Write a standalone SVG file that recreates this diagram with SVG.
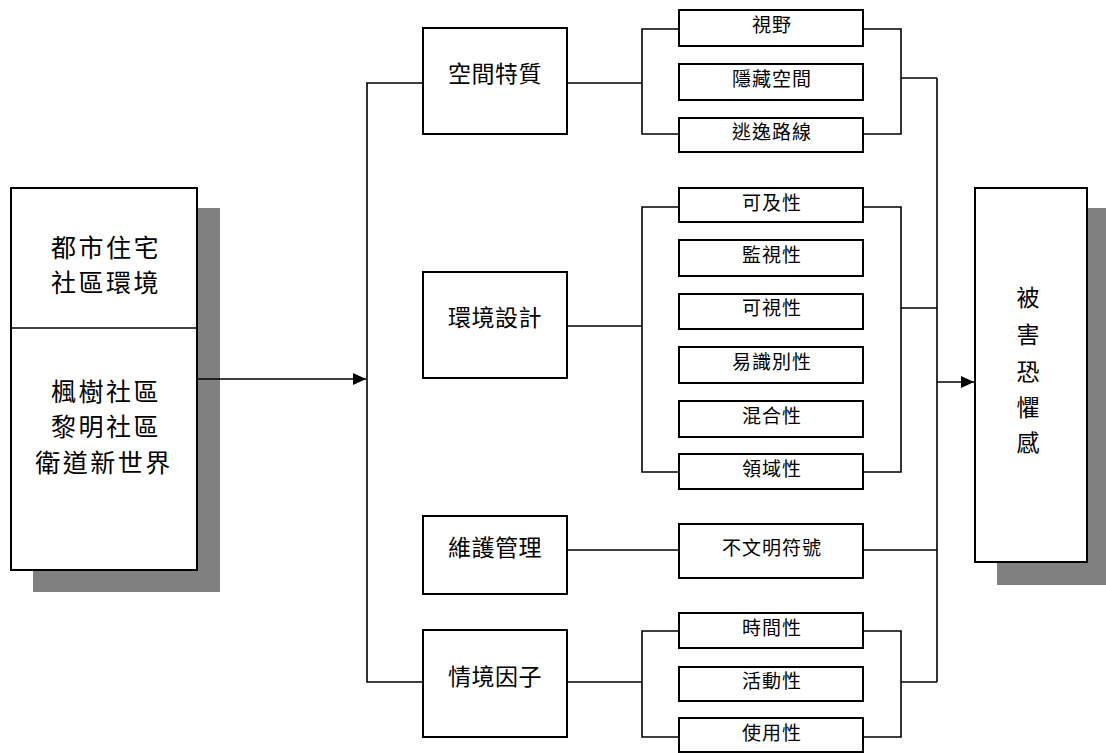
<svg xmlns="http://www.w3.org/2000/svg" width="1106" height="753" viewBox="0 0 1106 753">
<style>
.box{fill:#fff;stroke:#000;stroke-width:2}
.sh{fill:#808080}
.ln{fill:none;stroke:#000;stroke-width:1.6}
text{font-family:"Noto Sans CJK TC","Noto Sans CJK SC",sans-serif;fill:#000;text-anchor:middle}
.big{font-size:25px;letter-spacing:2.5px}
.mid{font-size:23px;letter-spacing:0.5px}
.sm{font-size:19px;letter-spacing:1px}
.vt{font-size:23px}
</style>
<defs>
<marker id="ah" markerWidth="14" markerHeight="12" refX="13" refY="6" orient="auto" markerUnits="userSpaceOnUse">
<path d="M0,0 L13,6 L0,12 Z" fill="#000"/>
</marker>
</defs>
<rect x="0" y="0" width="1106" height="753" fill="#fff"/>
<g id="source">
<rect class="sh" x="33" y="208" width="187" height="384"/>
<rect class="box" x="11" y="188" width="186" height="382"/>
<line x1="11" y1="328" x2="197" y2="328" stroke="#000" stroke-width="1.6"/>
<text class="big" x="106" y="257">都市住宅</text>
<text class="big" x="106" y="292">社區環境</text>
<text class="big" x="106" y="401">楓樹社區</text>
<text class="big" x="106" y="436">黎明社區</text>
<text class="big" x="104" y="472">衛道新世界</text>
</g>
<g id="n-space"><rect class="box" x="423" y="28" width="144" height="106"/><text class="mid" x="495" y="82">空間特質</text></g>
<g id="n-env"><rect class="box" x="423" y="272" width="144" height="106"/><text class="mid" x="495" y="326">環境設計</text></g>
<g id="n-maint"><rect class="box" x="423" y="516" width="144" height="78"/><text class="mid" x="495" y="556">維護管理</text></g>
<g id="n-situ"><rect class="box" x="423" y="630" width="144" height="107"/><text class="mid" x="495" y="685">情境因子</text></g>
<g id="s1"><rect class="box" x="679" y="10" width="184" height="36"/><text class="sm" x="772" y="32">視野</text></g>
<g id="s2"><rect class="box" x="679" y="64" width="184" height="36"/><text class="sm" x="772" y="86">隱藏空間</text></g>
<g id="s3"><rect class="box" x="679" y="118" width="184" height="34"/><text class="sm" x="772" y="139">逃逸路線</text></g>
<g id="s4"><rect class="box" x="679" y="188" width="184" height="34"/><text class="sm" x="772" y="210">可及性</text></g>
<g id="s5"><rect class="box" x="679" y="240" width="184" height="36"/><text class="sm" x="772" y="262">監視性</text></g>
<g id="s6"><rect class="box" x="679" y="294" width="184" height="35"/><text class="sm" x="772" y="315">可視性</text></g>
<g id="s7"><rect class="box" x="679" y="347" width="184" height="36"/><text class="sm" x="772" y="369">易識別性</text></g>
<g id="s8"><rect class="box" x="679" y="401" width="184" height="36"/><text class="sm" x="772" y="423">混合性</text></g>
<g id="s9"><rect class="box" x="679" y="454" width="184" height="35"/><text class="sm" x="772" y="476">領域性</text></g>
<g id="s10"><rect class="box" x="679" y="524" width="184" height="54"/><text class="sm" x="772" y="555">不文明符號</text></g>
<g id="s11"><rect class="box" x="679" y="613" width="184" height="35"/><text class="sm" x="772" y="635">時間性</text></g>
<g id="s12"><rect class="box" x="679" y="667" width="184" height="34"/><text class="sm" x="772" y="688">活動性</text></g>
<g id="s13"><rect class="box" x="679" y="718" width="184" height="34"/><text class="sm" x="772" y="740">使用性</text></g>
<g id="target">
<rect class="sh" x="997" y="208" width="111" height="377"/>
<rect class="box" x="975" y="188" width="112" height="374"/>
<text class="vt" x="1028" y="306">被</text>
<text class="vt" x="1028" y="343">害</text>
<text class="vt" x="1028" y="380">恐</text>
<text class="vt" x="1028" y="416">懼</text>
<text class="vt" x="1028" y="451">感</text>
</g>
<g id="connectors">
<path class="ln" d="M197,379 H366" marker-end="url(#ah)"/>
<path class="ln" d="M423,83 H367 V682 H423"/>
<path class="ln" d="M567,83 H642 M679,29 H642 V134 H679"/>
<path class="ln" d="M567,326 H642 M679,207 H642 V472 H679"/>
<path class="ln" d="M567,550 H679"/>
<path class="ln" d="M567,682 H642 M679,631 H642 V737 H679"/>
<path class="ln" d="M863,29 H901 V134 H863 M901,78 H937"/>
<path class="ln" d="M863,207 H901 V472 H863 M901,308 H937"/>
<path class="ln" d="M863,550 H937"/>
<path class="ln" d="M863,631 H901 V737 H863 M901,682 H937"/>
<path class="ln" d="M937,78 V682"/>
<path class="ln" d="M937,382 H974" marker-end="url(#ah)"/>
</g>
</svg>
